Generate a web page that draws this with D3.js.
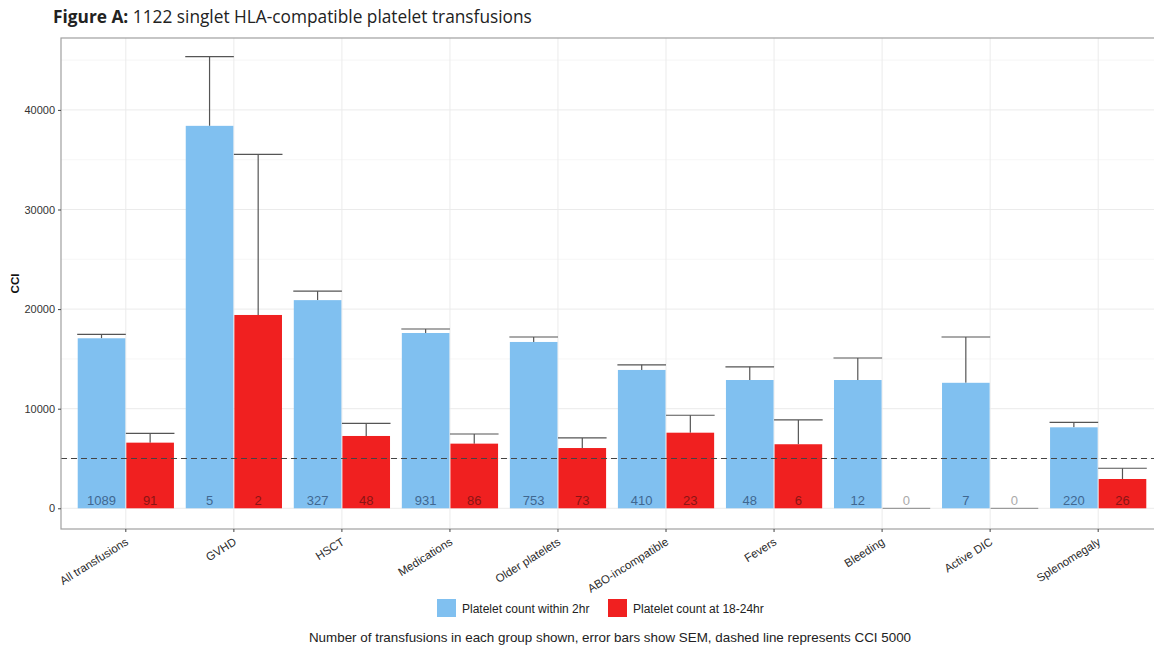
<!DOCTYPE html>
<html>
<head>
<meta charset="utf-8">
<script src="https://cdn.jsdelivr.net/npm/d3@7"></script>
<style>
  body { margin: 0; background: #fff; overflow: hidden; }
  text { font-family: "Liberation Sans", Arial, sans-serif; }
</style>
</head>
<body>
<svg></svg>
<script>
//constants
const W = 1154, H = 651;
// the right edge of the panel runs past the picture, as in the original
const panel = {left: 61, right: 1163, top: 38, bottom: 529};

//data
const categories = ["All transfusions", "GVHD", "HSCT", "Medications", "Older platelets",
  "ABO-incompatible", "Fevers", "Bleeding", "Active DIC", "Splenomegaly"];
const series = ["Platelet count within 2hr", "Platelet count at 18-24hr"];
const early = [17070, 38400, 20900, 17600, 16700, 13890, 12880, 12880, 12600, 8130];
const earlySem = [400, 6950, 900, 400, 500, 510, 1320, 2210, 4600, 500];
const earlyN = [1089, 5, 327, 931, 753, 410, 48, 12, 7, 220];
const late = [6590, 19410, 7260, 6490, 6050, 7590, 6430, 0, 0, 2940];
const lateSem = [940, 16130, 1270, 970, 1010, 1750, 2440, 0, 0, 1080];
const lateN = [91, 2, 48, 86, 73, 23, 6, 0, 0, 26];
const yTicks = [0, 10000, 20000, 30000, 40000];
const threshold = 5000;

const colors = ["#80c0f0", "#f02020"];
const labelColors = ["#3f6790", "#8a1414"];

//flatten
let bars = [];
categories.forEach((c, i) => {
  bars.push({cat: c, s: 0, v: early[i], se: earlySem[i], n: earlyN[i]});
  bars.push({cat: c, s: 1, v: late[i], se: lateSem[i], n: lateN[i]});
});

let svg = d3.select("svg").attr("width", W).attr("height", H);

//scales (ggplot style: 0.6 expansion on each side of the discrete axis)
const x = d3.scalePoint()
  .domain(categories)
  .range([panel.left, panel.right])
  .padding(0.6);
const step = x.step();
const barW = step * 0.45;
const cx = c => x(c);

const y = d3.scaleLinear()
  .domain([-2080, 47220])
  .range([panel.bottom, panel.top]);

//title
let title = svg.append("text")
  .attr("x", 53).attr("y", 23)
  .style("font-family", "'Open Sans', Lato, sans-serif")
  .style("font-size", "17.3px")
  .attr("fill", "#222");
title.append("tspan").style("font-weight", "bold").text("Figure A:");
title.append("tspan").text(" 1122 singlet HLA-compatible platelet transfusions");

//grid
let grid = svg.append("g").attr("class", "grid");
d3.range(0, 47220, 5000).forEach(v => {
  grid.append("line")
    .attr("x1", panel.left).attr("x2", panel.right)
    .attr("y1", y(v)).attr("y2", y(v))
    .attr("stroke", v % 10000 === 0 ? "#ebebeb" : "#f4f4f4")
    .attr("stroke-width", v % 10000 === 0 ? 1 : 0.8);
});
categories.forEach(c => {
  grid.append("line")
    .attr("x1", cx(c)).attr("x2", cx(c))
    .attr("y1", panel.top).attr("y2", panel.bottom)
    .attr("stroke", "#ebebeb");
});

//error bars (upper only, drawn first)
let eb = svg.append("g").attr("class", "errorbars");
bars.filter(d => d.v > 0).forEach(d => {
  const x0 = cx(d.cat) + (d.s === 0 ? -barW : 0);
  eb.append("line")
    .attr("x1", x0 + barW / 2).attr("x2", x0 + barW / 2)
    .attr("y1", y(d.v)).attr("y2", y(d.v + d.se))
    .attr("stroke", "#555").attr("stroke-width", 1.2);
  eb.append("line")
    .attr("x1", x0).attr("x2", x0 + barW)
    .attr("y1", y(d.v + d.se)).attr("y2", y(d.v + d.se))
    .attr("stroke", "#555").attr("stroke-width", 1.2);
});

//bars
svg.append("g").attr("class", "bars")
  .selectAll("rect")
  .data(bars)
  .enter()
  .append("rect")
  .attr("x", d => cx(d.cat) + (d.s === 0 ? -barW : 0) + 0.5)
  .attr("width", barW - 1)
  .attr("y", d => d.v > 0 ? y(d.v) : y(0) - 0.5)
  .attr("height", d => d.v > 0 ? y(0) - y(d.v) : 1.2)
  .attr("fill", d => d.v > 0 ? colors[d.s] : "#999");

//count labels
svg.append("g").attr("class", "counts")
  .selectAll("text")
  .data(bars)
  .enter()
  .append("text")
  .attr("x", d => cx(d.cat) + (d.s === 0 ? -barW / 2 : barW / 2))
  .attr("y", y(0) - 3)
  .attr("text-anchor", "middle")
  .style("font-size", "13px")
  .attr("fill", d => d.n === 0 ? "#aaa" : labelColors[d.s])
  .text(d => d.n);

//dashed threshold
svg.append("line")
  .attr("x1", panel.left).attr("x2", panel.right)
  .attr("y1", y(threshold)).attr("y2", y(threshold))
  .attr("stroke", "#444").attr("stroke-width", 1.2)
  .attr("stroke-dasharray", "6,4");

//panel border
svg.append("rect")
  .attr("x", panel.left).attr("y", panel.top)
  .attr("width", panel.right - panel.left).attr("height", panel.bottom - panel.top)
  .attr("fill", "none").attr("stroke", "#a0a0a0").attr("stroke-width", 1.2);

//y axis
let gY = svg.append("g")
  .attr("transform", "translate(" + panel.left + ",0)")
  .call(d3.axisLeft(y).tickValues(yTicks).tickSize(3).tickPadding(3).tickFormat(d3.format("d")));
gY.select(".domain").remove();
gY.selectAll("line").attr("stroke", "#444");
gY.selectAll("text").style("font-size", "11px").attr("fill", "#333")
  .style("font-family", "'Liberation Sans', Arial, sans-serif");

//x axis
let gX = svg.append("g")
  .attr("transform", "translate(0," + panel.bottom + ")");
categories.forEach(c => {
  gX.append("line")
    .attr("x1", cx(c)).attr("x2", cx(c))
    .attr("y1", 0).attr("y2", 3)
    .attr("stroke", "#444");
  gX.append("text")
    .attr("transform", "translate(" + (cx(c) - 1) + ",8) rotate(-32)")
    .attr("text-anchor", "end")
    .attr("dy", "0.71em")
    .style("font-size", "11.5px")
    .attr("fill", "#2a2a2a")
    .text(c);
});

//axis label
svg.append("text")
  .attr("transform", "translate(19," + ((panel.top + panel.bottom) / 2) + ") rotate(-90)")
  .attr("text-anchor", "middle")
  .style("font-size", "11.5px")
  .style("font-weight", "bold")
  .attr("fill", "#111")
  .text("CCI");

//legend
let legend = svg.append("g").attr("transform", "translate(437,599)");
legend.append("rect").attr("x", 0).attr("y", 0).attr("width", 19).attr("height", 18).attr("fill", colors[0]);
legend.append("text").attr("x", 25).attr("y", 14).style("font-size", "12px").attr("fill", "#222").text(series[0]);
legend.append("rect").attr("x", 171).attr("y", 0).attr("width", 19).attr("height", 18).attr("fill", colors[1]);
legend.append("text").attr("x", 196).attr("y", 14).style("font-size", "12px").attr("fill", "#222").text(series[1]);

//caption
svg.append("text")
  .attr("x", 610).attr("y", 642)
  .attr("text-anchor", "middle")
  .style("font-size", "13.4px")
  .attr("fill", "#222")
  .text("Number of transfusions in each group shown, error bars show SEM, dashed line represents CCI 5000");
</script>
</body>
</html>
